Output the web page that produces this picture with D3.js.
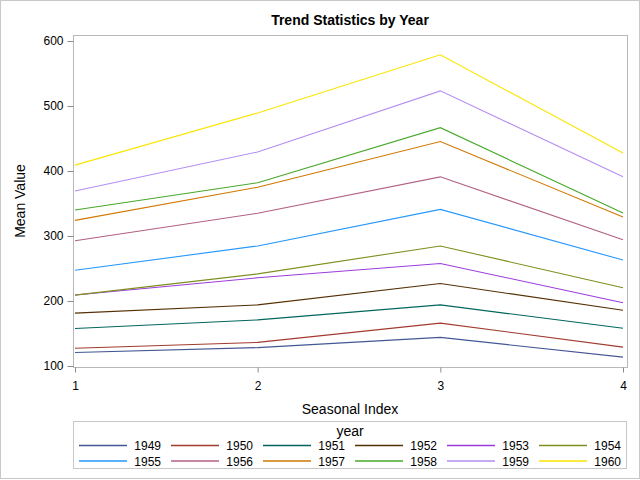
<!DOCTYPE html>
<html>
<head>
<meta charset="utf-8">
<script src="https://cdn.jsdelivr.net/npm/d3@7"></script>
<style>
body { margin: 0; background: #fff; }
text { font-family: "Liberation Sans", Arial, sans-serif; fill: #000; }
</style>
</head>
<body>
<script>
const years = ['1949', '1950', '1951', '1952', '1953', '1954', '1955', '1956', '1957', '1958', '1959', '1960'];
const seasons = [1, 2, 3, 4];
// mean value per year, seasonal index 1..4
const v1949 = [120.7, 128.3, 144.0, 113.7];
const v1950 = [127.3, 136.3, 166.0, 129.0];
const v1951 = [157.7, 171.0, 194.0, 158.0];
const v1952 = [181.3, 194.0, 227.0, 185.7];
const v1953 = [209.3, 235.7, 257.7, 197.3];
const v1954 = [209.0, 241.7, 284.7, 220.3];
const v1955 = [247.3, 284.7, 341.0, 263.0];
const v1956 = [292.7, 335.0, 391.0, 294.3];
const v1957 = [324.0, 375.0, 445.3, 329.3];
const v1958 = [340.0, 382.0, 466.7, 335.3];
const v1959 = [369.3, 429.3, 523.3, 391.3];
const v1960 = [409.0, 489.3, 578.7, 427.7];
const yTicks = [100, 200, 300, 400, 500, 600];

const series = [v1949, v1950, v1951, v1952, v1953, v1954, v1955, v1956, v1957, v1958, v1959, v1960];
const colors = ['#445694', '#a23a2e', '#01665e', '#543005', '#9d3cdb', '#7f8e1f',
                '#2597fa', '#b26084', '#d17800', '#47a82a', '#b38ef3', '#f9e500'];

const width = 640;
const height = 480;
const plotLeft = 73, plotRight = 627, plotTop = 35, plotBottom = 367;

const svg = d3.select('body')
    .append('svg')
    .attr('width', width)
    .attr('height', height);

// outer border
svg.append('rect')
    .attr('x', 0.5).attr('y', 0.5)
    .attr('width', width - 1).attr('height', height - 2)
    .attr('fill', 'none').attr('stroke', '#c8c8c8');

const x = d3.scaleLinear().domain([1, 4]).range([75, 623]);
const y = d3.scaleLinear().domain([100, 600]).range([366, 41]);

// plot frame
svg.append('rect')
    .attr('x', plotLeft + 0.5).attr('y', plotTop + 0.5)
    .attr('width', plotRight - plotLeft).attr('height', plotBottom - plotTop)
    .attr('fill', 'none').attr('stroke', '#b8b8b8');

const yAxis = svg.append('g')
    .attr('transform', 'translate(' + (plotLeft + 0.5) + ',0)')
    .call(d3.axisLeft(y).tickValues(yTicks).tickSize(6).tickPadding(4));
const xAxis = svg.append('g')
    .attr('transform', 'translate(0,' + (plotBottom + 0.5) + ')')
    .call(d3.axisBottom(x).tickValues(seasons).tickFormat(d3.format('d')).tickSize(5).tickPadding(9));

[yAxis, xAxis].forEach(g => {
    g.select('.domain').remove();
    g.selectAll('line').attr('stroke', '#8c8c8c');
    g.selectAll('text').style('font-size', '12px').style('font-family', '"Liberation Sans", Arial, sans-serif');
});

const line = d3.line()
    .x((d, i) => x(seasons[i]))
    .y(d => y(d));

svg.append('g')
    .selectAll('path')
    .data(series)
    .enter()
    .append('path')
    .attr('d', line)
    .attr('fill', 'none')
    .attr('stroke', (d, i) => colors[i])
    .attr('stroke-width', 1.1);

svg.append('text')
    .attr('x', 350).attr('y', 25)
    .attr('text-anchor', 'middle')
    .style('font-size', '14px').style('font-weight', 'bold')
    .text('Trend Statistics by Year');

svg.append('text')
    .attr('transform', 'translate(25,201) rotate(-90)')
    .attr('text-anchor', 'middle')
    .style('font-size', '14px')
    .text('Mean Value');

svg.append('text')
    .attr('x', 350).attr('y', 414)
    .attr('text-anchor', 'middle')
    .style('font-size', '14px')
    .text('Seasonal Index');

// legend
const legend = svg.append('g');
legend.append('rect')
    .attr('x', 73.5).attr('y', 421.5)
    .attr('width', 553).attr('height', 47)
    .attr('fill', 'none').attr('stroke', '#c8c8c8');
legend.append('text')
    .attr('x', 350).attr('y', 436)
    .attr('text-anchor', 'middle')
    .style('font-size', '14px')
    .text('year');

const item = legend.selectAll('g.item')
    .data(years)
    .enter()
    .append('g')
    .attr('class', 'item')
    .attr('transform', (d, i) => 'translate(' + (79 + (i % 6) * 92) + ',' + (445.5 + Math.floor(i / 6) * 15.5) + ')');
item.append('line')
    .attr('x1', 0).attr('x2', 48)
    .attr('stroke', d => colors[years.indexOf(d)])
    .attr('stroke-width', 1.3);
item.append('text')
    .attr('x', 82).attr('y', 4.5)
    .attr('text-anchor', 'end')
    .style('font-size', '12px')
    .text(d => d);
</script>
</body>
</html>
